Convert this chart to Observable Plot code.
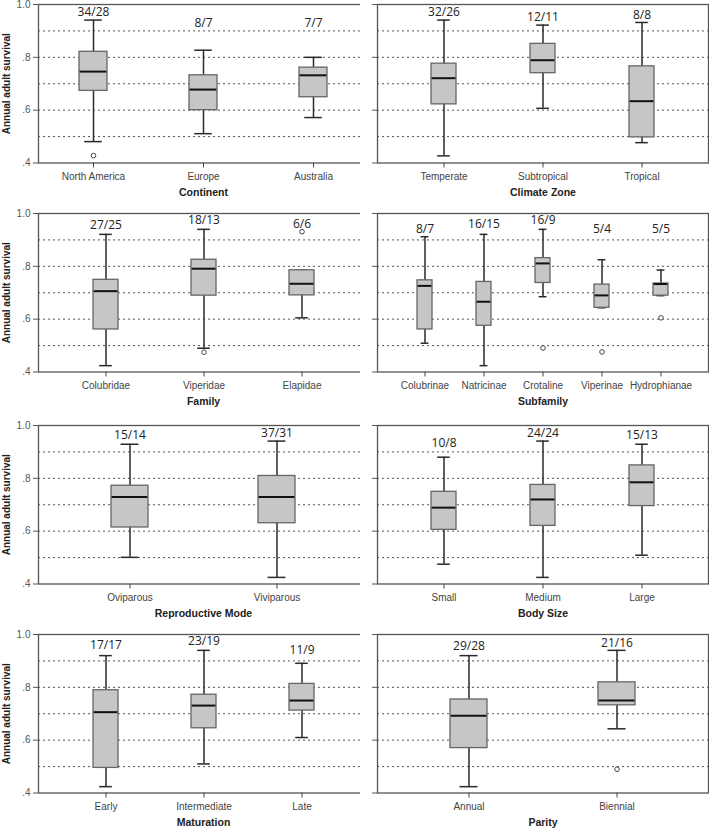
<!DOCTYPE html>
<html>
<head>
<meta charset="utf-8">
<script src="https://cdn.jsdelivr.net/npm/d3@7"></script>
<script src="https://cdn.jsdelivr.net/npm/@observablehq/plot@0.6"></script>
<style>
  html, body { margin: 0; padding: 0; background: #fff; overflow: hidden; }
  #page { position: relative; width: 709px; height: 828px; overflow: hidden; }
  .cell { position: absolute; }
  .cell svg { display: block; }
</style>
</head>
<body>
<div id="page"></div>
<script>
// ---------- DATA ----------
const yTicks = [0.4, 0.6, 0.8, 1.0];
const gridVals = [0.5, 0.6, 0.7, 0.8, 0.9];
const yTitle = "Annual adult survival";

const continentCats = ["North America", "Europe", "Australia"];
const continentLow  = [0.481, 0.511, 0.572];
const continentQ1   = [0.673, 0.600, 0.649];
const continentMed  = [0.746, 0.678, 0.732];
const continentQ3   = [0.821, 0.732, 0.761];
const continentHigh = [0.941, 0.827, 0.800];
const continentN    = ["34/28", "8/7", "7/7"];
const continentNY   = [0.972, 0.930, 0.930];
const continentOut  = [["North America", 0.428]];

const climateCats = ["Temperate", "Subtropical", "Tropical"];
const climateLow  = [0.427, 0.607, 0.477];
const climateQ1   = [0.622, 0.740, 0.497];
const climateMed  = [0.721, 0.789, 0.634];
const climateQ3   = [0.776, 0.851, 0.766];
const climateHigh = [0.941, 0.922, 0.932];
const climateN    = ["32/26", "12/11", "8/8"];
const climateNY   = [0.972, 0.952, 0.960];
const climateOut  = [];

const familyCats = ["Colubridae", "Viperidae", "Elapidae"];
const familyLow  = [0.424, 0.490, 0.605];
const familyQ1   = [0.561, 0.689, 0.690];
const familyMed  = [0.706, 0.791, 0.734];
const familyQ3   = [0.749, 0.825, 0.785];
const familyHigh = [0.921, 0.940, 0.785];
const familyN    = ["27/25", "18/13", "6/6"];
const familyNY   = [0.957, 0.975, 0.958];
const familyOut  = [["Viperidae", 0.475], ["Elapidae", 0.931]];

const subfamilyCats = ["Colubrinae", "Natricinae", "Crotaline", "Viperinae", "Hydrophianae"];
const subfamilyLow  = [0.509, 0.424, 0.685, 0.643, 0.689];
const subfamilyQ1   = [0.561, 0.575, 0.737, 0.643, 0.689];
const subfamilyMed  = [0.726, 0.666, 0.811, 0.690, 0.733];
const subfamilyQ3   = [0.747, 0.741, 0.831, 0.731, 0.735];
const subfamilyHigh = [0.912, 0.921, 0.940, 0.825, 0.786];
const subfamilyN    = ["8/7", "16/15", "16/9", "5/4", "5/5"];
const subfamilyNY   = [0.942, 0.958, 0.975, 0.942, 0.942];
const subfamilyOut  = [["Crotaline", 0.491], ["Viperinae", 0.476], ["Hydrophianae", 0.605]];

const reproCats = ["Oviparous", "Viviparous"];
const reproLow  = [0.501, 0.425];
const reproQ1   = [0.614, 0.630];
const reproMed  = [0.729, 0.729];
const reproQ3   = [0.772, 0.809];
const reproHigh = [0.929, 0.941];
const reproN    = ["15/14", "37/31"];
const reproNY   = [0.963, 0.970];
const reproOut  = [];

const bodyCats = ["Small", "Medium", "Large"];
const bodyLow  = [0.475, 0.425, 0.509];
const bodyQ1   = [0.605, 0.620, 0.695];
const bodyMed  = [0.689, 0.720, 0.785];
const bodyQ3   = [0.749, 0.775, 0.849];
const bodyHigh = [0.880, 0.941, 0.929];
const bodyN    = ["10/8", "24/24", "15/13"];
const bodyNY   = [0.933, 0.972, 0.963];
const bodyOut  = [];

const maturationCats = ["Early", "Intermediate", "Late"];
const maturationLow  = [0.424, 0.510, 0.610];
const maturationQ1   = [0.495, 0.645, 0.712];
const maturationMed  = [0.706, 0.731, 0.750];
const maturationQ3   = [0.789, 0.772, 0.813];
const maturationHigh = [0.920, 0.940, 0.891];
const maturationN    = ["17/17", "23/19", "11/9"];
const maturationNY   = [0.961, 0.973, 0.942];
const maturationOut  = [];

const parityCats = ["Annual", "Biennial"];
const parityLow  = [0.424, 0.643];
const parityQ1   = [0.570, 0.732];
const parityMed  = [0.692, 0.750];
const parityQ3   = [0.754, 0.819];
const parityHigh = [0.920, 0.940];
const parityN    = ["29/28", "21/16"];
const parityNY   = [0.955, 0.966];
const parityOut  = [["Biennial", 0.490]];

// ---------- LAYOUT ----------
const panels = [
  {title: "Continent", cats: continentCats, low: continentLow, q1: continentQ1, med: continentMed, q3: continentQ3, high: continentHigh, n: continentN, nY: continentNY, out: continentOut, row: 0, left: true, p: 0.5, cap: 0.62},
  {title: "Climate Zone", cats: climateCats, low: climateLow, q1: climateQ1, med: climateMed, q3: climateQ3, high: climateHigh, n: climateN, nY: climateNY, out: climateOut, row: 0, left: false, p: 0.67, cap: 0.5},
  {title: "Family", cats: familyCats, low: familyLow, q1: familyQ1, med: familyMed, q3: familyQ3, high: familyHigh, n: familyN, nY: familyNY, out: familyOut, row: 1, left: true, p: 0.67, cap: 0.5},
  {title: "Subfamily", cats: subfamilyCats, low: subfamilyLow, q1: subfamilyQ1, med: subfamilyMed, q3: subfamilyQ3, high: subfamilyHigh, n: subfamilyN, nY: subfamilyNY, out: subfamilyOut, row: 1, left: false, p: 0.79, cap: 0.52},
  {title: "Reproductive Mode", cats: reproCats, low: reproLow, q1: reproQ1, med: reproMed, q3: reproQ3, high: reproHigh, n: reproN, nY: reproNY, out: reproOut, row: 2, left: true, p: 0.615, cap: 0.48},
  {title: "Body Size", cats: bodyCats, low: bodyLow, q1: bodyQ1, med: bodyMed, q3: bodyQ3, high: bodyHigh, n: bodyN, nY: bodyNY, out: bodyOut, row: 2, left: false, p: 0.67, cap: 0.5},
  {title: "Maturation", cats: maturationCats, low: maturationLow, q1: maturationQ1, med: maturationMed, q3: maturationQ3, high: maturationHigh, n: maturationN, nY: maturationNY, out: maturationOut, row: 3, left: true, p: 0.67, cap: 0.5},
  {title: "Parity", cats: parityCats, low: parityLow, q1: parityQ1, med: parityMed, q3: parityQ3, high: parityHigh, n: parityN, nY: parityNY, out: parityOut, row: 3, left: false, p: 0.615, cap: 0.49}
];
const rowTops = [1, 210, 422, 631];

const fmtY = d => d === 1 ? "1.0" : d3.format(".1f")(d).replace(/^0/, "");
const axisFont = "'Liberation Sans', Arial, sans-serif";
const countFont = "'Open Sans', 'Noto Sans', sans-serif";

function makePanel(cfg) {
  const rows = cfg.cats.map((c, i) => ({
    cat: c, low: cfg.low[i], q1: cfg.q1[i], med: cfg.med[i], q3: cfg.q3[i], high: cfg.high[i], n: cfg.n[i], nY: cfg.nY[i]
  }));
  const width = cfg.left ? 369 : 349;
  const mL = cfg.left ? 38 : 17, mR = 1;
  const pOuter = cfg.p - 0.125;
  const step = (width - mL - mR) / (cfg.cats.length - 0.75 + 2 * pOuter);
  const bw = 0.25 * step;
  const capInset = (bw - cfg.cap * bw) / 2;
  const whisker = {stroke: "#2a2a2a", strokeWidth: 1.5};
  return Plot.plot({
    width, height: 196,
    marginTop: 3, marginBottom: 34.5, marginLeft: mL, marginRight: mR,
    style: {fontFamily: axisFont, fontSize: "10px", background: "#fff", overflow: "visible"},
    x: {type: "band", domain: cfg.cats, paddingInner: 0.75, paddingOuter: pOuter, align: 0.5},
    y: {domain: [0.4, 1.0]},
    marks: [
      Plot.ruleY(gridVals, {stroke: "#555", strokeWidth: 1, strokeDasharray: "2,3"}),
      Plot.axisY({ticks: yTicks, tickFormat: cfg.left ? fmtY : () => "", tickSize: 5, tickPadding: 3, color: "#555", label: null, fontSize: 10}),
      Plot.axisX({tickSize: 5, tickPadding: 5, color: "#444", label: null, fontSize: 10}),
      Plot.ruleX(rows, {x: "cat", y1: "low", y2: "high", ...whisker}),
      Plot.tickY(rows, {x: "cat", y: "low", insetLeft: capInset, insetRight: capInset, ...whisker}),
      Plot.tickY(rows, {x: "cat", y: "high", insetLeft: capInset, insetRight: capInset, ...whisker}),
      Plot.barY(rows, {x: "cat", y1: "q1", y2: "q3", fill: "#c6c6c6", stroke: "#666", strokeWidth: 1.3}),
      Plot.tickY(rows, {x: "cat", y: "med", stroke: "#111", strokeWidth: 2, insetLeft: 0.6, insetRight: 0.6}),
      Plot.dot(cfg.out, {x: d => d[0], y: d => d[1], r: 2.3, stroke: "#444", strokeWidth: 1, fill: "#fff"}),
      Plot.text(rows, {x: "cat", y: "nY", text: "n", fontSize: 12, fill: "#222", fontFamily: countFont}),
      Plot.frame({stroke: "#555", strokeWidth: 1.3}),
      Plot.text([cfg.title], {frameAnchor: "bottom", lineAnchor: "middle", dy: 29.5, fontWeight: "bold", fill: "#222", fontSize: 10.5, text: d => d}),
      cfg.left ? Plot.text([yTitle], {frameAnchor: "left", textAnchor: "middle", lineAnchor: "middle", dx: -32, rotate: -90, fontWeight: "bold", fill: "#222", fontSize: 10, text: d => d}) : null
    ]
  });
}

const page = document.getElementById("page");
for (const cfg of panels) {
  const div = document.createElement("div");
  div.className = "cell";
  div.style.left = (cfg.left ? 0 : 360) + "px";
  div.style.top = rowTops[cfg.row] + "px";
  div.appendChild(makePanel(cfg));
  page.appendChild(div);
}
</script>
</body>
</html>
